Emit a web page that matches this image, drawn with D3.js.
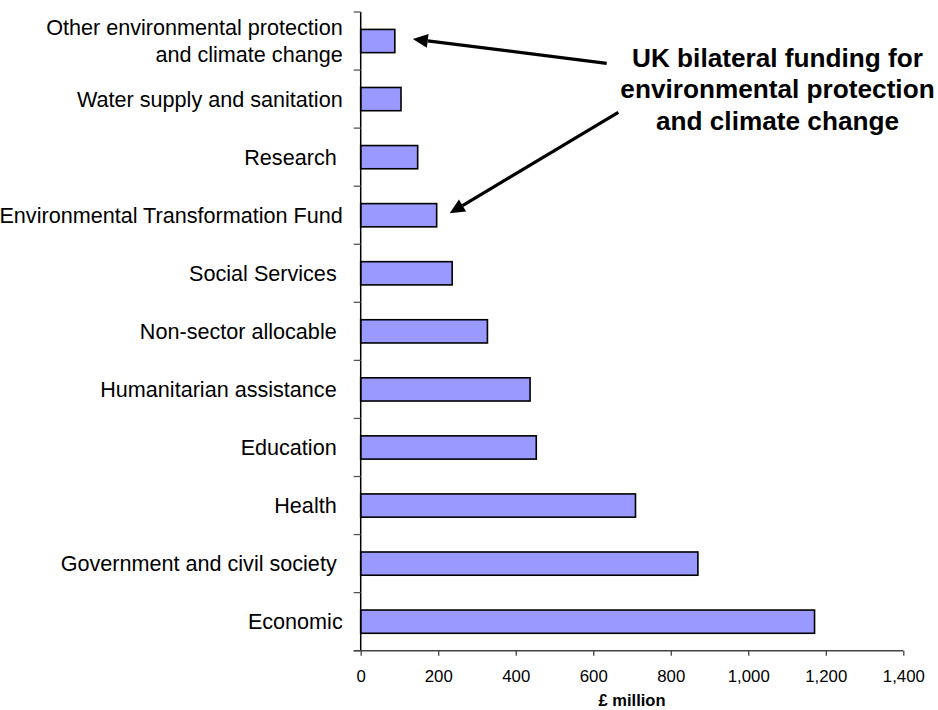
<!DOCTYPE html>
<html>
<head>
<meta charset="utf-8">
<script src="https://cdn.jsdelivr.net/npm/d3@7"></script>
<style>
  html, body { margin: 0; padding: 0; background: #fff; }
  svg { display: block; font-family: "Liberation Sans", Arial, sans-serif; }
</style>
</head>
<body>
<svg id="chart" width="938" height="710"></svg>
<script>
// ---- data (top to bottom as drawn) ----
const categories = [
  ["Other environmental protection", "and climate change"],
  ["Water supply and sanitation"],
  ["Research "],
  ["Environmental Transformation Fund"],
  ["Social Services "],
  ["Non-sector allocable "],
  ["Humanitarian assistance "],
  ["Education "],
  ["Health "],
  ["Government and civil society "],
  ["Economic"]
];
const values = [88, 104, 147, 196, 236, 327, 437, 453, 709, 870, 1171];
const xTicks = [0, 200, 400, 600, 800, 1000, 1200, 1400];
const xTitle = "£ million";
const noteLines = ["UK bilateral funding for", "environmental protection", "and climate change"];

(function () {
const svg = d3.select("#chart");
const pL = 360.7, pR = 903.3, pT = 12, pB = 650.7;

const keys = categories.map((c, i) => i);
const x = d3.scaleLinear().domain([0, 1400]).range([pL, pR]);
const y = d3.scaleBand().domain(keys).range([pT, pB]).paddingInner(0.6).paddingOuter(0.3);
const yBand = d3.scaleBand().domain(keys).range([pT, pB]);

// bars
svg.append("g").selectAll("rect").data(values).join("rect")
  .attr("x", x(0))
  .attr("y", (d, i) => y(i))
  .attr("width", d => x(d) - x(0))
  .attr("height", y.bandwidth())
  .attr("fill", "#9999FF")
  .attr("stroke", "#000")
  .attr("stroke-width", 1.6);

// y axis
const yg = svg.append("g");
yg.append("line").attr("x1", pL).attr("x2", pL).attr("y1", pT).attr("y2", pB)
  .attr("stroke", "#000").attr("stroke-width", 1.5);
yg.selectAll("line.tk").data(d3.range(0, keys.length + 1)).join("line")
  .attr("class", "tk")
  .attr("x1", pL - 7).attr("x2", pL)
  .attr("y1", i => pT + i * yBand.step()).attr("y2", i => pT + i * yBand.step())
  .attr("stroke", "#555").attr("stroke-width", 1.3);

// category labels
const lab = svg.append("g").attr("font-size", 21.6).attr("fill", "#000").attr("text-anchor", "end");
categories.forEach((lines, i) => {
  const cy = yBand(i) + yBand.bandwidth() / 2;
  const lh = 26.7;
  const t = lab.append("text").attr("x", pL - 18).attr("y", cy);
  lines.forEach((ln, j) => {
    t.append("tspan").attr("x", pL - 18)
      .attr("y", cy + (j - (lines.length - 1) / 2) * lh)
      .attr("dy", "0.35em")
      .text(ln.replace(/ $/, "\u00A0"));
  });
});

// x axis
const xAxis = d3.axisBottom(x).tickValues(xTicks).tickSize(5).tickPadding(14.5)
  .tickFormat(d3.format(","));
const xg = svg.append("g").attr("transform", `translate(0,${pB})`).call(xAxis);
xg.select(".domain").remove();
xg.append("line").attr("x1", pL - 7).attr("x2", pR).attr("y1", 0).attr("y2", 0)
  .attr("stroke", "#444").attr("stroke-width", 1.5);
xg.selectAll(".tick line").attr("stroke", "#444").attr("stroke-width", 1.3);
xg.selectAll(".tick text").attr("font-size", 16.8).attr("fill", "#000")
  .attr("font-family", "'Liberation Sans', Arial, sans-serif");

svg.append("text").attr("x", (pL + pR) / 2).attr("y", 705.5)
  .attr("text-anchor", "middle").attr("font-weight", "bold").attr("font-size", 16.5)
  .text(xTitle);

// annotation
const note = svg.append("text").attr("text-anchor", "middle").attr("font-weight", "bold")
  .attr("font-size", 26.2).attr("fill", "#000");
noteLines.forEach((ln, j) => {
  note.append("tspan").attr("x", 777.5).attr("y", 66.5 + j * 31.7).text(ln);
});

function arrow(x1, y1, x2, y2) {
  const ang = Math.atan2(y2 - y1, x2 - x1);
  const L = 15, W = 7;
  const bx = x2 - L * Math.cos(ang), by = y2 - L * Math.sin(ang);
  svg.append("line").attr("x1", x1).attr("y1", y1).attr("x2", bx).attr("y2", by)
    .attr("stroke", "#000").attr("stroke-width", 3.2);
  const px = -Math.sin(ang) * W, py = Math.cos(ang) * W;
  svg.append("path")
    .attr("d", `M${x2},${y2}L${bx + px},${by + py}L${bx - px},${by - py}Z`)
    .attr("fill", "#000");
}
const c0 = yBand(0) + yBand.bandwidth() / 2;
const c3 = yBand(3) + yBand.bandwidth() / 2;
arrow(606.7, 63.3, x(values[0]) + 18, c0 - 2);
arrow(618.3, 112.3, x(values[3]) + 13, c3 - 2);
})();
</script>
</body>
</html>
